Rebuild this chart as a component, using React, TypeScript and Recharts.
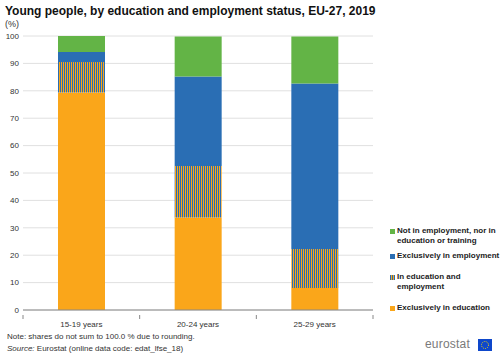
import { BarChart, Bar, XAxis, YAxis, CartesianGrid } from 'recharts';

const categories = ['15-19 years', '20-24 years', '25-29 years'];
const exclusivelyEducation = [79.4, 33.8, 8.0];
const educationAndEmployment = [11.1, 18.8, 14.3];
const exclusivelyEmployment = [3.7, 32.6, 60.4];
const neet = [5.8, 14.6, 17.1];
const yTicks = [0, 10, 20, 30, 40, 50, 60, 70, 80, 90, 100];

const ORANGE = '#FAA61A';
const BLUE = '#2A6EB4';
const GREEN = '#63B446';

const data = categories.map((name, i) => ({
  name,
  edu: exclusivelyEducation[i],
  eduEmp: educationAndEmployment[i],
  emp: exclusivelyEmployment[i],
  neet: neet[i],
}));

const legendItems = [
  { label: ['Not in employment, nor in', 'education or training'], color: GREEN, top: 226 },
  { label: ['Exclusively in employment'], color: BLUE, top: 251 },
  { label: ['In education and', 'employment'], color: 'hatch', top: 272 },
  { label: ['Exclusively in education'], color: ORANGE, top: 303 },
];

const font = 'Arial, "Liberation Sans", sans-serif';

function XTick(props: any) {
  const { x, y, payload } = props;
  const off = payload?.offset || 58.3;
  return (
    <g>
      <line x1={x - off} x2={x - off} y1={y - 3} y2={y + 1} stroke="#888" />
      {payload.index === categories.length - 1 && (
        <line x1={x + off} x2={x + off} y1={y - 3} y2={y + 1} stroke="#888" />
      )}
      <text x={x} y={y + 9} textAnchor="middle" fontSize={8} fill="#333" fontFamily={font}>
        {payload.value}
      </text>
    </g>
  );
}

export default function App() {
  return (
    <div style={{ position: 'relative', width: 500, height: 357, background: '#fff', fontFamily: font }}>
      <style>{`body{margin:0}`}</style>
      <div style={{ position: 'absolute', left: 5, top: 4, fontSize: 12, fontWeight: 'bold', color: '#111', whiteSpace: 'nowrap' }}>
        Young people, by education and employment status, EU-27, 2019
      </div>
      <div style={{ position: 'absolute', left: 5, top: 19, fontSize: 9, color: '#333' }}>(%)</div>
      <BarChart
        width={500}
        height={357}
        data={data}
        margin={{ top: 36, right: 127, bottom: 32, left: 5 }}
        barCategoryGap="30%"
      >
        <defs>
          <pattern id="hatch" width="2" height="4" patternUnits="userSpaceOnUse">
            <rect width="2" height="4" fill={ORANGE} />
            <rect width="1" height="4" fill={BLUE} />
          </pattern>
        </defs>
        <CartesianGrid vertical={false} stroke="#e0e0e0" />
        <YAxis
          width={18}
          domain={[0, 100]}
          ticks={yTicks}
          interval={0}
          axisLine={false}
          tickLine={false}
          tickSize={2}
          tick={{ fontSize: 8, fill: '#333', fontFamily: font }}
        />
        <XAxis
          dataKey="name"
          height={15}
          axisLine={{ stroke: '#888' }}
          tickLine={false}
          tick={<XTick />}
        />
        <Bar dataKey="edu" stackId="a" fill={ORANGE} barSize={47} isAnimationActive={false} />
        <Bar dataKey="eduEmp" stackId="a" fill="url(#hatch)" barSize={47} isAnimationActive={false} />
        <Bar dataKey="emp" stackId="a" fill={BLUE} barSize={47} isAnimationActive={false} />
        <Bar dataKey="neet" stackId="a" fill={GREEN} barSize={47} isAnimationActive={false} />
      </BarChart>
      {legendItems.map((it) => (
        <div key={it.label[0]} style={{ position: 'absolute', left: 390, top: it.top, fontSize: 8, fontWeight: 'bold', color: '#222', lineHeight: '10px' }}>
          <span
            style={{
              position: 'absolute',
              left: 0,
              top: 3,
              width: 5,
              height: 5,
              background:
                it.color === 'hatch'
                  ? `repeating-linear-gradient(90deg, ${BLUE} 0 1px, ${ORANGE} 1px 2px)`
                  : it.color,
            }}
          />
          <div style={{ marginLeft: 7 }}>
            {it.label.map((l) => (
              <div key={l}>{l}</div>
            ))}
          </div>
        </div>
      ))}
      <div style={{ position: 'absolute', left: 7, top: 332, fontSize: 8, color: '#333' }}>
        Note: shares do not sum to 100.0 % due to rounding.
      </div>
      <div style={{ position: 'absolute', left: 7, top: 344, fontSize: 8, color: '#333' }}>
        <i>Source:</i> Eurostat (online data code: edat_lfse_18)
      </div>
      <div style={{ position: 'absolute', left: 425, top: 337, fontSize: 12, color: '#7a7a7a', letterSpacing: 0.2 }}>eurostat</div>
      <svg style={{ position: 'absolute', left: 478, top: 339 }} width={14} height={12}>
        <rect width={14} height={12} fill="#0E47CB" />
        <circle cx={7} cy={6} r={3.5} fill="none" stroke="#FFDD00" strokeWidth={1} strokeDasharray="1 1.2" />
      </svg>
    </div>
  );
}
